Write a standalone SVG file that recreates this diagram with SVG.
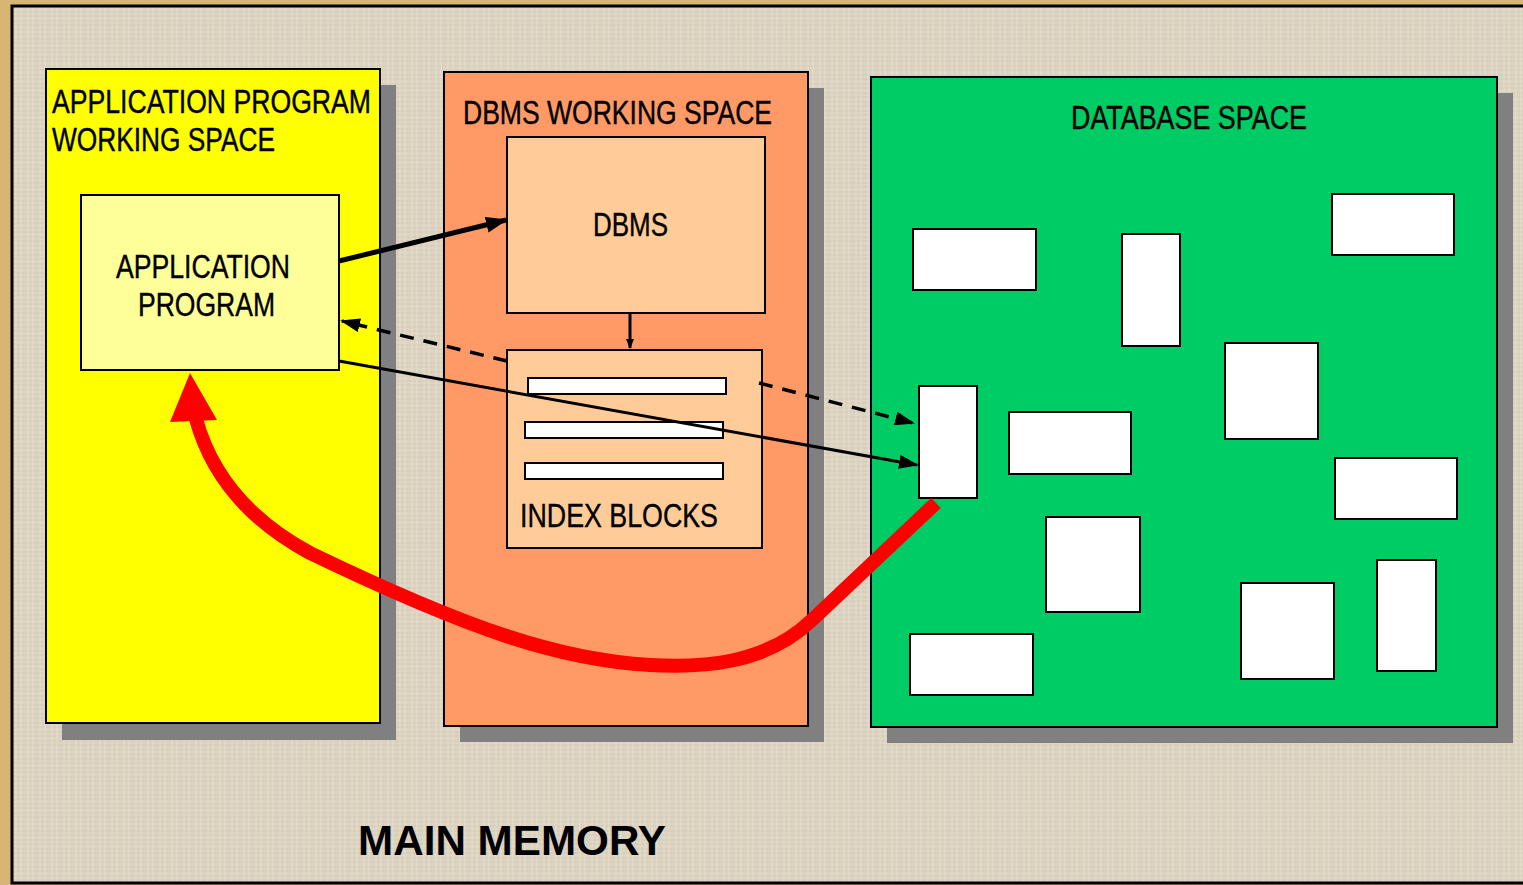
<svg xmlns="http://www.w3.org/2000/svg" width="1523" height="885" viewBox="0 0 1523 885">
<defs>
<pattern id="tex" width="12" height="9" patternUnits="userSpaceOnUse">
<rect width="12" height="9" fill="#ddd4c2"/>
<path d="M0 3H12M0 7H12" stroke="#c9bfac" stroke-width="1" opacity="0.6"/>
<path d="M4 0V9M9 0V9" stroke="#ebe4d6" stroke-width="1" opacity="0.7"/>
</pattern>
<marker id="ah" markerWidth="10" markerHeight="8" refX="9" refY="4" orient="auto" markerUnits="userSpaceOnUse" viewBox="0 0 10 8">
<path d="M0,0 L10,4 L0,8 z" fill="#000"/>
</marker>
<marker id="ahBig" markerWidth="22" markerHeight="16" refX="20" refY="8" orient="auto" markerUnits="userSpaceOnUse" viewBox="0 0 22 16">
<path d="M0,0 L22,8 L0,16 z" fill="#000"/>
</marker>
<marker id="ahMid" markerWidth="20" markerHeight="14" refX="18" refY="7" orient="auto" markerUnits="userSpaceOnUse" viewBox="0 0 20 14">
<path d="M0,0 L20,7 L0,14 z" fill="#000"/>
</marker>
</defs>
<style>
.shadow{fill:#808080}
.box{stroke:#000;stroke-width:2}
.t{font-family:"Liberation Sans Narrow","Liberation Sans",Arial,sans-serif;font-size:33px;fill:#000;stroke:#000;stroke-width:0.4}
.wr{fill:#fff;stroke:#000;stroke-width:2}
</style>
<rect width="1523" height="885" fill="#d6b575"/>
<rect x="12" y="6" width="1520" height="877" fill="url(#tex)" stroke="#000" stroke-width="3"/>

<g id="app-space">
<rect class="shadow" x="62" y="85" width="334" height="655"/>
<rect class="box" x="46" y="69" width="334" height="654" fill="#ffff00"/>
<text class="t" x="52" y="113" textLength="319" lengthAdjust="spacingAndGlyphs">APPLICATION PROGRAM</text>
<text class="t" x="52" y="151" textLength="223" lengthAdjust="spacingAndGlyphs">WORKING SPACE</text>
</g>
<g id="app-program">
<rect class="box" x="81" y="195" width="258" height="175" fill="#ffff99"/>
<text class="t" x="116" y="278" textLength="174" lengthAdjust="spacingAndGlyphs">APPLICATION</text>
<text class="t" x="138" y="316" textLength="137" lengthAdjust="spacingAndGlyphs">PROGRAM</text>
</g>

<g id="dbms-space">
<rect class="shadow" x="460" y="88" width="364" height="654"/>
<rect class="box" x="444" y="72" width="364" height="654" fill="#ff9966"/>
<text class="t" x="463" y="124" textLength="309" lengthAdjust="spacingAndGlyphs">DBMS WORKING SPACE</text>
</g>
<g id="dbms">
<rect class="box" x="507" y="137" width="258" height="176" fill="#ffcc99"/>
<text class="t" x="593" y="236" textLength="75" lengthAdjust="spacingAndGlyphs">DBMS</text>
</g>
<g id="index-blocks">
<rect class="box" x="507" y="350" width="255" height="198" fill="#ffcc99"/>
<rect class="wr" x="528" y="378" width="198" height="16"/>
<rect class="wr" x="525" y="422" width="198" height="16"/>
<rect class="wr" x="525" y="463" width="198" height="16"/>
<text class="t" x="520" y="527" textLength="198" lengthAdjust="spacingAndGlyphs">INDEX BLOCKS</text>
</g>

<g id="database-space">
<rect class="shadow" x="887" y="93" width="626" height="650"/>
<rect class="box" x="871" y="77" width="626" height="650" fill="#00cc66"/>
<text class="t" x="1071" y="129" textLength="236" lengthAdjust="spacingAndGlyphs">DATABASE SPACE</text>
<rect class="wr" x="913" y="229" width="123" height="61"/>
<rect class="wr" x="1122" y="234" width="58" height="112"/>
<rect class="wr" x="1332" y="194" width="122" height="61"/>
<rect class="wr" x="1225" y="343" width="93" height="96"/>
<rect class="wr" x="1009" y="412" width="122" height="62"/>
<rect class="wr" x="1335" y="458" width="122" height="61"/>
<rect class="wr" x="1046" y="517" width="94" height="95"/>
<rect class="wr" x="1241" y="583" width="93" height="96"/>
<rect class="wr" x="1377" y="560" width="59" height="111"/>
<rect class="wr" x="910" y="634" width="123" height="61"/>
</g>
<g id="db-record">
<rect class="wr" x="919" y="386" width="58" height="112"/>
</g>

<g id="connectors">
<line x1="339" y1="261" x2="506" y2="220" stroke="#000" stroke-width="5" marker-end="url(#ahBig)"/>
<line x1="630" y1="313" x2="630" y2="348" stroke="#000" stroke-width="3" marker-end="url(#ah)"/>
<line x1="507" y1="361" x2="342" y2="321" stroke="#000" stroke-width="3.5" stroke-dasharray="14,10" marker-end="url(#ahMid)"/>
<line x1="759" y1="383" x2="913" y2="423" stroke="#000" stroke-width="3.5" stroke-dasharray="14,10" marker-end="url(#ahMid)"/>
<line x1="339" y1="361" x2="917" y2="465" stroke="#000" stroke-width="3" marker-end="url(#ahMid)"/>
<path d="M936,503 L812,620 C765,665 700,668 650,665 C560,660 470,630 310,553 C245,518 210,470 196,419" fill="none" stroke="#ff0000" stroke-width="14"/>
<path d="M190,373 L217,420 L170,422 z" fill="#ff0000"/>
</g>

<text x="358" y="855" font-family="'Liberation Sans',Arial,sans-serif" font-weight="bold" font-size="42" textLength="308" lengthAdjust="spacingAndGlyphs">MAIN MEMORY</text>
</svg>
